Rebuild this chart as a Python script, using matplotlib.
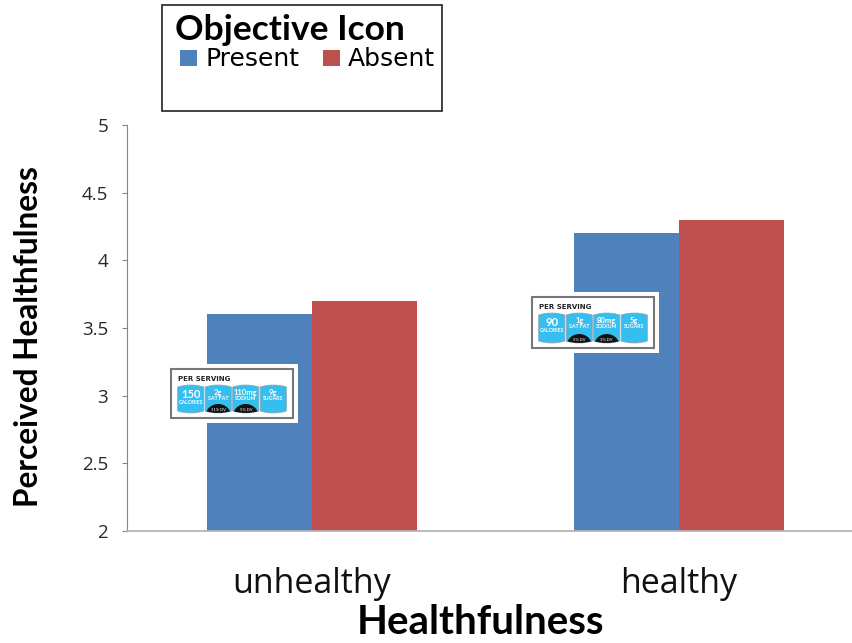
import matplotlib
matplotlib.use("Agg")
import matplotlib.pyplot as plt
from matplotlib.patches import Rectangle, PathPatch, Ellipse
from matplotlib.path import Path

groups = ["unhealthy", "healthy"]
present = [3.6, 4.2]
absent = [3.7, 4.3]
yticks = [2, 2.5, 3, 3.5, 4, 4.5, 5]
ytick_labels = ["2", "2.5", "3", "3.5", "4", "4.5", "5"]

# nutrition icon contents
icon_names = ["CALORIES", "SAT FAT", "SODIUM", "SUGARS"]
icon_low = ["90", "1g", "80mg", "5g"]
icon_high = ["150", "2g", "110mg", "9g"]
dv_low = [None, "5% DV", "3% DV", None]
dv_high = [None, "11% DV", "5% DV", None]

BLUE = "#4F81BD"
RED = "#C0504D"
CAN = "#35BEF0"
W, H = 852, 643

plt.rcParams["font.family"] = ["Lato", "DejaVu Sans"]
fig = plt.figure(figsize=(W / 100, H / 100), dpi=100)


def box(left, top, right, bottom):
    # axes position from pixel edges
    return [left / W, 1 - bottom / H, (right - left) / W, (bottom - top) / H]


ax = fig.add_axes(box(127, 125, 852, 531))
px = 367.0
ax.set_xlim(-185 / px, 540 / px)
ax.set_ylim(2, 5)
bar_w = 105 / px
xs = range(len(groups))
ax.bar([x - bar_w / 2 for x in xs], present, bar_w, color=BLUE)
ax.bar([x + bar_w / 2 for x in xs], absent, bar_w, color=RED)

for s in ["top", "right"]:
    ax.spines[s].set_visible(False)
ax.spines["left"].set_color("#868686")
ax.spines["bottom"].set_color("#b4b4b4")
ax.spines["bottom"].set_linewidth(1.3)
ax.set_yticks(yticks)
ax.set_yticklabels(ytick_labels, fontsize=13.5, family=["Open Sans"], color="#2a2a2a")
ax.tick_params(axis="y", length=3.6, color="#868686", pad=10)
ax.set_xticks(list(xs))
ax.set_xticklabels(groups, fontsize=24.5, family=["Open Sans"], color="#111111")
ax.tick_params(axis="x", length=0, pad=26)

# overlay in pixel coordinates for the legend box, axis titles and icons
ov = fig.add_axes([0, 0, 1, 1])
ov.set_xlim(0, W)
ov.set_ylim(H, 0)
ov.axis("off")
ov.patch.set_alpha(0)

ov.text(481, 622, "Healthfulness", fontsize=29, fontweight="bold", ha="center", va="center")
ov.text(29, 337, "Perceived Healthfulness", fontsize=22.7, fontweight="bold",
        ha="center", va="center", rotation=90)

ov.add_patch(Rectangle((162, 5), 280, 106, fc="white", ec="#222222", lw=1.2))
ov.text(175, 30, "Objective Icon", fontsize=25.5, fontweight="bold", ha="left", va="center")
ov.add_patch(Rectangle((180, 50), 17, 16, fc=BLUE, ec="none"))
ov.add_patch(Rectangle((323, 50), 17, 16, fc=RED, ec="none"))
ov.text(206, 59, "Present", fontsize=18, family=["DejaVu Sans"], ha="left", va="center")
ov.text(348, 59, "Absent", fontsize=18, family=["DejaVu Sans"], ha="left", va="center")


def can_path(x0, x1, y0, y1):
    # rounded block with slightly bulging top and bottom edges
    mx = (x0 + x1) / 2
    verts = [(x0, y0 + 2), (mx, y0 - 2), (x1, y0 + 2), (x1, y1 - 2), (mx, y1 + 2), (x0, y1 - 2), (x0, y0 + 2)]
    codes = [Path.MOVETO, Path.CURVE3, Path.CURVE3, Path.LINETO, Path.CURVE3, Path.CURVE3, Path.CLOSEPOLY]
    return Path(verts, codes)


def draw_icon(x0, y0, x1, y1, values, dv):
    # white card, grey frame, header text, then one blue can per nutrient
    ov.add_patch(Rectangle((x0, y0), x1 - x0, y1 - y0, fc="white", ec="none", zorder=3))
    fx0, fy0, fx1, fy1 = x0 + 1, y0 + 5, x1 - 5, y1 - 5
    ov.add_patch(Rectangle((fx0, fy0), fx1 - fx0, fy1 - fy0, fc="white", ec="#777777", lw=1.5, zorder=3))
    ov.text(fx0 + 7, fy0 + 10, "PER SERVING", fontsize=5, fontweight="bold", color="#222222",
            family=["DejaVu Sans"], ha="left", va="center", zorder=5)
    cw = (fx1 - fx0 - 12) / 4
    top = fy0 + 16
    bottom = fy1 - 5
    for i, (val, name) in enumerate(zip(values, icon_names)):
        cx0 = fx0 + 6 + i * cw
        mid = cx0 + cw / 2
        can = PathPatch(can_path(cx0 + 0.7, cx0 + cw - 0.7, top, bottom), fc=CAN, ec="#8fa3ae", lw=0.6, zorder=4)
        ov.add_patch(can)
        if i == 0:
            ov.text(mid, top + 9, val, color="white", fontsize=8, fontweight="bold",
                    ha="center", va="center", zorder=6)
            ov.text(mid, top + 17, name, color="white", fontsize=3.8, fontweight="bold",
                    ha="center", va="center", zorder=6)
        else:
            ov.text(mid, top + 7, val, color="white", fontsize=5.5, fontweight="bold",
                    ha="center", va="center", zorder=6)
            ov.text(mid, top + 13, name, color="white", fontsize=3.8, fontweight="bold",
                    ha="center", va="center", zorder=6)
        if dv[i]:
            dome = Ellipse((mid, bottom + 3), cw - 2, 24, fc="#111111", ec="none", zorder=5)
            ov.add_patch(dome)
            dome.set_clip_path(can)
            ov.text(mid, bottom - 3, dv[i], color="white", fontsize=3, ha="center", va="center", zorder=6)


draw_icon(170, 364, 298, 423, icon_high, dv_high)
draw_icon(531, 292, 659, 353, icon_low, dv_low)

fig.savefig("out.png", dpi=100)
